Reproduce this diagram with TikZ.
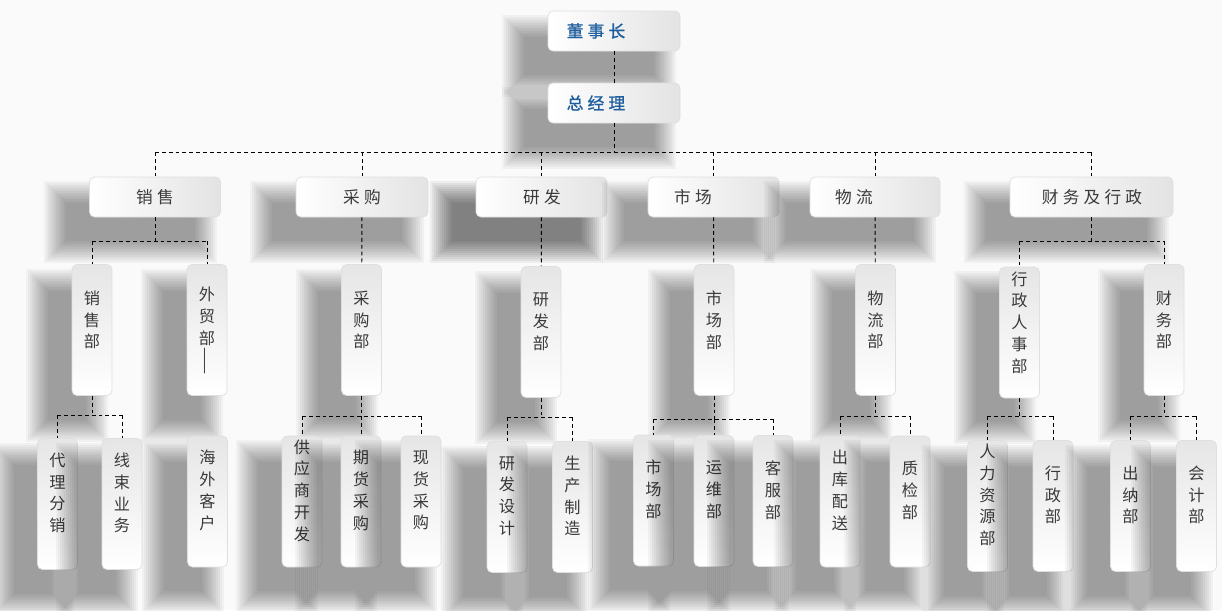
\documentclass[tikz,border=0pt]{standalone}
\usepackage{fontspec}
\usepackage{graphicx}
\setmainfont{Noto Sans CJK SC}
\newfontfamily\spacedcjk[LetterSpace=25]{Noto Sans CJK SC}
\newfontfamily\topcjk[LetterSpace=25,FakeBold=1.2]{Noto Sans CJK SC}
\usetikzlibrary{positioning}
\definecolor{orgBlue}{HTML}{1F5F9E}
\definecolor{orgText}{HTML}{3A3A3A}
\definecolor{orgBack}{HTML}{FAFAFA}

\tikzset{
  hbox/.style={draw=gray!25, line width=0.4pt, rounded corners=0.1cm,
    left color=white, right color=gray!22, minimum width=2.62cm, minimum height=0.8cm},
  vbox/.style={draw=gray!25, line width=0.4pt, rounded corners=0.1cm,
    top color=gray!20, bottom color=white, minimum width=0.8cm, minimum height=2.62cm},
  toptext/.style={text=orgBlue, font=\topcjk\fontsize{9.5}{11}\selectfont},
  htext/.style={text=orgText, font=\spacedcjk\fontsize{9.5}{11}\selectfont},
  vtext/.style={text=orgText, align=center, inner sep=1pt, font=\fontsize{9.2}{12.4}\selectfont},
  link/.style={draw=black, line width=0.55pt, dash pattern=on 2.2pt off 1.7pt},
}

% blurred drop shadow, box corners in px
\newcommand\boxshadow[5][0.035]{%
  \foreach \k in {0,...,11}
    \fill[black, opacity=#1] (#2-46+2*\k, #3+4+2*\k) rectangle (#4-4-2*\k, #5+46-2*\k);}

\begin{document}
\begin{tikzpicture}[x=0.02cm, y=-0.02cm]
  \fill[orgBack] (0,0) rectangle (1222,610);
  \useasboundingbox (0,0) rectangle (1222,610);

  % top
  \boxshadow{548}{11}{680}{51}
  \node[hbox, minimum width=2.64cm] (ds) at (614,31) {};
  \node[toptext] (ds-t) at (596,31) {董事长};
  \boxshadow{548}{83}{680}{123}
  \node[hbox, minimum width=2.64cm] (zjl) at (614,103) {};
  \node[toptext] (zjl-t) at (596,103) {总经理};

  % departments
  \foreach \n/\x/\w/\tx/\op/\txt in {xs/155/2.62/155/0.035/销售, cg/362/2.64/362/0.035/采购,
      yf/541.5/2.62/542/0.05/研发, sc/713.5/2.62/693/0.035/市场, wl/875/2.6/854/0.035/物流,
      cw/1091.5/3.26/1092/0.035/财务及行政} {
    \boxshadow[\op]{\x-\w*25}{177}{\x+\w*25}{217}
    \node[hbox, minimum width=\w cm] (\n) at (\x,197) {};
    \node[htext] (\n-t) at (\tx,197) {\txt};
  }

  % offices
  \foreach \n/\x/\y/\txt in {xsb/92/330/{销\\售\\部}, cgb/361.5/330/{采\\购\\部},
      yfb/541/332/{研\\发\\部}, scb/714/330/{市\\场\\部}, wlb/875.5/330/{物\\流\\部},
      xzrs/1019.5/332.5/{行\\政\\人\\事\\部}, cwb/1164/330/{财\\务\\部}} {
    \boxshadow{\x-20}{\y-65.5}{\x+20}{\y+65.5}
    \node[vbox] (\n) at (\x,\y) {};
    \node[vtext] (\n-t) at ([yshift=0.2cm]\n.center) {\txt};
  }
  \boxshadow{187}{264.5}{227}{395.5}
  \node[vbox] (wmb) at (207,330) {};
  \node[vtext, anchor=north] (wmb-t) at ([yshift=-0.42cm]wmb.north)
    {外\\贸\\部\\\rotatebox{90}{——}};

  % teams
  \foreach \n/\x/\y/\txt in {dlfx/57.5/504/{代\\理\\分\\销}, xsyw/122/504/{线\\束\\业\\务},
      hwkh/207.5/501.5/{海\\外\\客\\户}, gys/302/501.5/{供\\应\\商\\开\\发},
      qhcg/361/501.5/{期\\货\\采\\购}, xhcg/421/501.5/{现\\货\\采\\购},
      yfsj/507/507/{研\\发\\设\\计}, sczz/572.5/507/{生\\产\\制\\造},
      scb2/653.5/500.5/{市\\场\\部}, ywb/714/501/{运\\维\\部}, kfb/773/501/{客\\服\\部},
      ckps/840/501.5/{出\\库\\配\\送}, zjb/910/501.5/{质\\检\\部},
      rlzy/987.5/506/{人\\力\\资\\源\\部}, xzb/1053/506/{行\\政\\部},
      cnb/1130.5/506/{出\\纳\\部}, kjb/1196.5/506/{会\\计\\部}} {
    \boxshadow{\x-20}{\y-65.5}{\x+20}{\y+65.5}
    \node[vbox] (\n) at (\x,\y) {};
    \node[vtext] (\n-t) at ([yshift=0.22cm]\n.center) {\txt};
  }

  % connectors
  \draw[link] (ds) -- (zjl);
  \coordinate (busTop) at (614,152);
  \draw[link] (zjl) -- (busTop);
  \draw[link] (xs.north |- busTop) -- (cw.north |- busTop);
  \foreach \c in {xs,cg,yf,sc,wl,cw}
    \draw[link] (\c.north |- busTop) -- (\c.north);

  \coordinate (busXs) at (155,241);
  \draw[link] (xs) -- (busXs);
  \draw[link] (xsb.north |- busXs) -- (wmb.north |- busXs);
  \foreach \c in {xsb,wmb}
    \draw[link] (\c.north |- busXs) -- (\c.north);
  \draw[link] (cg) -- (cgb);
  \draw[link] (yf) -- (yfb);
  \draw[link] (sc) -- (scb);
  \draw[link] (wl) -- (wlb);
  \coordinate (busCw) at (1091.5,241);
  \draw[link] (cw) -- (busCw);
  \draw[link] (xzrs.north |- busCw) -- (cwb.north |- busCw);
  \foreach \c in {xzrs,cwb}
    \draw[link] (\c.north |- busCw) -- (\c.north);

  % lowest level
  \foreach \p/\by/\f/\l/\kids in {xsb/415/dlfx/xsyw/{dlfx,xsyw},
      cgb/416/gys/xhcg/{gys,qhcg,xhcg}, yfb/417/yfsj/sczz/{yfsj,sczz},
      scb/419/scb2/kfb/{scb2,ywb,kfb}, wlb/416/ckps/zjb/{ckps,zjb},
      xzrs/416/rlzy/xzb/{rlzy,xzb}, cwb/416/cnb/kjb/{cnb,kjb}} {
    \coordinate (bus-\p) at (\p.south |- 0,\by);
    \draw[link] (\p.south) -- (bus-\p);
    \draw[link] (\f.north |- bus-\p) -- (\l.north |- bus-\p);
    \foreach \c in \kids
      \draw[link] (\c.north |- bus-\p) -- (\c.north);
  }
\end{tikzpicture}
\end{document}
